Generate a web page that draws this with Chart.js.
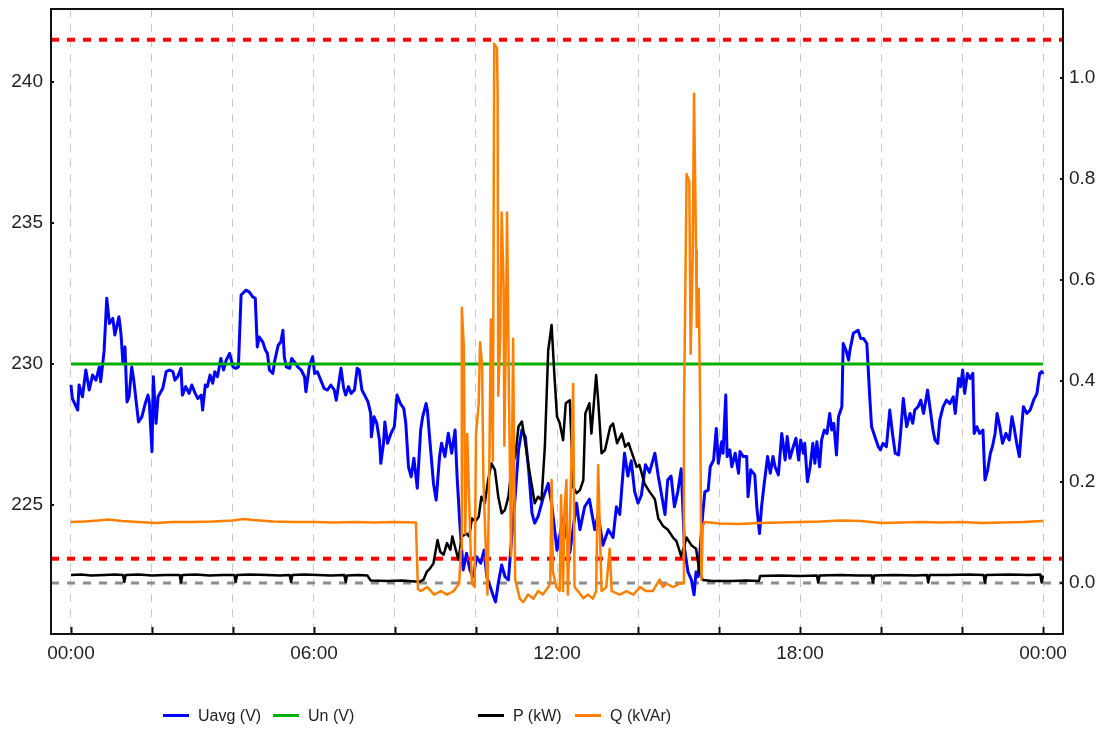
<!DOCTYPE html>
<html>
<head>
<meta charset="utf-8">
<title>Uavg / Un / P / Q</title>
<script src="https://cdn.jsdelivr.net/npm/chart.js@4.4.1/dist/chart.umd.min.js"></script>
<style>
  html, body { margin: 0; padding: 0; background: #ffffff; }
  #wrap { position: relative; width: 1104px; height: 734px; }
  canvas { display: block; }
  .lg { position: absolute; top: 707px; height: 22px; line-height: 22px;
        font: 16px "Liberation Sans", Arial, sans-serif; color: #222; white-space: nowrap; }
  .lg i { display: inline-block; width: 26px; height: 3px; vertical-align: middle;
          margin-right: 9px; position: relative; top: -1px; }
</style>
</head>
<body>
<div id="wrap">
  <canvas id="chart" width="1104" height="734"></canvas>
  <div class="lg" style="left:163px"><i style="background:#0000ff"></i>Uavg (V)</div>
  <div class="lg" style="left:273px"><i style="background:#00b000"></i>Un (V)</div>
  <div class="lg" style="left:478px"><i style="background:#000000"></i>P (kW)</div>
  <div class="lg" style="left:575px"><i style="background:#ff8000"></i>Q (kVAr)</div>
</div>
<script>
// Time axis is in minutes from midnight; limits and nominal voltage in volts.
const nominalVoltage = 230;
const upperLimit = 241.5;
const lowerLimit = 223.1;

const timeTicks = [0, 120, 240, 360, 480, 600, 720, 840, 960, 1080, 1200, 1320, 1440];
const voltTicks = [225, 230, 235, 240];
const powerTicks = [0, 0.2, 0.4, 0.6, 0.8, 1.0];

// Average phase voltage (V)
const uavgTime = [0,2,10,12,17,22,27,32,37,42,44,49,53,57,62,65,71,74,77,80,83,86,90,93,100,105,110,114,116,120,122,126,129,136,141,146,151,154,158,163,165,170,175,179,184,188,193,195,199,202,206,210,213,217,222,226,230,235,240,244,248,252,259,264,269,273,276,279,284,288,291,294,299,302,307,311,314,316,319,324,327,331,336,341,346,348,353,358,361,365,370,375,380,385,390,393,396,400,404,407,411,415,420,424,427,431,435,440,444,445,449,453,457,459,463,465,469,474,479,483,488,493,496,500,504,508,513,518,521,526,528,532,537,541,546,549,554,559,564,569,572,576,581,586,591,596,601,607,612,616,621,626,629,633,638,643,648,653,658,663,668,673,678,683,687,692,700,707,712,720,729,739,749,754,761,768,776,781,788,796,803,808,813,820,825,830,835,840,845,851,857,865,870,875,880,884,889,894,899,904,909,914,919,923,926,929,936,939,944,947,952,956,959,964,966,970,972,976,979,984,989,991,996,1001,1003,1007,1013,1016,1020,1023,1027,1032,1036,1040,1043,1048,1053,1058,1061,1065,1070,1074,1078,1081,1085,1087,1091,1095,1099,1102,1105,1109,1112,1116,1120,1124,1127,1130,1134,1137,1142,1144,1148,1152,1154,1159,1166,1170,1174,1179,1183,1186,1191,1196,1199,1203,1208,1213,1217,1221,1226,1229,1233,1238,1243,1247,1250,1255,1259,1263,1269,1273,1277,1280,1284,1287,1292,1297,1302,1307,1310,1315,1318,1321,1324,1328,1332,1336,1338,1342,1346,1351,1354,1358,1362,1365,1369,1372,1376,1380,1385,1390,1394,1397,1401,1405,1408,1411,1416,1421,1426,1431,1435,1438,1440];
const uavgValue = [229.26,228.78,228.37,229.26,228.84,229.79,229.08,229.61,229.43,229.9,229.37,230.44,232.33,231.44,231.62,231.03,231.68,231.09,230.02,230.61,228.66,228.84,229.9,229.43,227.95,228.13,228.6,228.9,228.66,226.89,229.55,227.9,228.84,229.14,229.73,229.79,229.73,229.43,229.55,229.85,228.9,229.2,228.96,229.26,228.96,228.78,228.9,228.37,229.26,229.2,229.61,229.32,229.73,229.55,230.2,229.79,230.14,230.38,229.9,229.85,229.9,232.45,232.62,232.56,232.39,232.33,230.61,230.96,230.79,230.5,230.38,229.79,229.67,230.14,230.67,230.79,231.2,230.26,229.9,229.85,230.2,230.08,229.9,229.79,229.55,229.02,229.9,230.26,229.67,229.73,229.43,229.14,229.08,229.26,229.08,228.72,229.2,229.85,229.14,228.9,229.2,228.96,229.08,229.85,229.79,229.08,228.9,228.66,228.25,227.42,228.13,227.9,227.3,226.48,227.19,227.95,227.19,227.54,227.78,228.9,228.6,228.43,227.9,226.36,226.0,226.66,225.6,227.66,228.13,228.6,228.37,227.19,225.77,225.18,226.72,227.19,226.72,227.55,226.84,227.66,226.01,224.36,222.7,223.29,222.7,222.46,223.17,222.94,223.4,222.46,222.11,221.75,221.57,222.23,222.88,222.46,222.35,223.88,225.3,226.96,227.66,227.43,226.25,224.71,224.36,224.6,225.3,225.77,225.06,223.4,224.53,223.31,225.07,224.13,224.94,225.21,224.13,224.67,223.58,224.13,223.85,224.94,224.67,226.84,226.03,226.57,225.48,225.07,225.35,226.43,226.16,226.84,226.03,225.35,224.67,225.89,226.03,224.94,225.48,226.29,223.45,222.63,222.36,221.82,222.63,222.46,224.71,225.47,225.53,226.36,226.6,227.72,226.48,227.25,226.84,228.9,226.72,226.96,226.36,226.84,226.13,226.9,226.72,226.72,225.3,226.25,226.07,224.94,223.99,224.94,225.77,226.72,226.13,226.72,226.36,226.07,227.54,226.6,227.43,226.66,227.07,227.37,226.6,227.31,226.84,227.19,225.83,226.36,227.19,226.48,227.25,226.36,227.31,227.66,227.54,228.25,227.66,227.9,226.78,228.13,228.49,230.73,230.5,230.14,230.5,231.09,231.2,230.91,230.91,230.73,228.96,227.78,227.42,227.07,226.96,227.19,227.07,228.37,227.54,226.84,226.78,227.54,228.78,227.78,228.25,227.9,228.37,228.49,228.72,228.25,229.08,228.37,227.66,227.31,227.19,228.01,228.49,228.72,228.6,228.84,228.25,229.49,229.2,229.79,228.96,229.67,229.49,229.67,227.54,227.78,227.54,227.66,225.89,226.25,226.84,227.07,227.54,228.25,227.78,227.19,227.54,227.31,228.13,227.78,227.19,226.72,227.66,228.49,228.25,228.37,228.72,228.96,229.67,229.73,229.65];

// Active power (kW)
const pTime = [0,15,30,50,65,77,79,81,100,120,140,161,163,165,185,205,225,242,244,246,265,290,310,324,326,328,345,365,385,405,407,409,425,439,444,470,490,510,517,522,527,532,537,543,547,552,557,562,565,570,574,579,586,590,594,599,604,608,613,618,623,628,633,638,643,648,653,658,663,668,673,678,683,687,692,697,702,707,712,716,720,724,729,733,739,744,749,754,759,762,768,771,778,781,786,791,799,803,809,816,821,826,833,838,842,850,857,865,870,877,884,892,897,904,912,919,926,931,936,950,980,1000,1019,1021,1050,1080,1105,1107,1109,1140,1165,1186,1188,1190,1220,1250,1268,1270,1272,1300,1330,1352,1354,1356,1390,1420,1436,1438,1440];
const pValue = [0.016,0.017,0.015,0.016,0.017,0.016,0.002,0.016,0.017,0.015,0.016,0.016,0.001,0.016,0.017,0.015,0.016,0.016,0.002,0.016,0.017,0.016,0.015,0.016,0.002,0.016,0.017,0.016,0.015,0.016,0.002,0.015,0.016,0.015,0.005,0.004,0.005,0.003,0.003,0.006,0.022,0.029,0.039,0.085,0.062,0.056,0.079,0.066,0.092,0.066,0.046,0.092,0.098,0.092,0.128,0.122,0.131,0.171,0.158,0.204,0.237,0.224,0.171,0.138,0.145,0.171,0.231,0.25,0.31,0.32,0.277,0.231,0.191,0.158,0.171,0.164,0.27,0.461,0.511,0.415,0.33,0.317,0.283,0.356,0.362,0.19,0.178,0.184,0.204,0.336,0.356,0.296,0.412,0.362,0.257,0.263,0.31,0.316,0.277,0.296,0.27,0.277,0.25,0.23,0.234,0.196,0.181,0.166,0.128,0.113,0.106,0.09,0.083,0.053,0.09,0.075,0.068,0.022,0.006,0.004,0.004,0.005,0.004,0.014,0.015,0.014,0.015,0.001,0.015,0.016,0.015,0.015,0.001,0.015,0.016,0.015,0.016,0.001,0.016,0.016,0.017,0.016,0.001,0.016,0.017,0.016,0.017,0.001,0.015];

// Reactive power (kVAr)
const qTime = [0,20,40,55,75,100,125,150,180,210,240,255,270,300,330,360,390,420,450,480,511,514,518,528,538,548,557,567,575,578,579,582,584,587,589,592,594,598,600,604,606,609,611,614,617,620,622,625,627,631,632,633,636,638,641,642,645,646,649,652,655,658,665,670,677,685,692,699,707,710,712,714,719,724,726,729,731,734,736,739,744,746,751,759,766,773,778,781,783,786,793,798,801,813,823,833,843,852,862,872,877,882,892,902,907,908,912,916,918,921,923,926,927,930,932,934,936,939,960,990,1020,1050,1080,1110,1140,1170,1200,1230,1260,1290,1320,1350,1380,1410,1440];
const qValue = [0.121,0.122,0.124,0.126,0.123,0.121,0.119,0.121,0.121,0.122,0.124,0.127,0.125,0.122,0.121,0.121,0.12,0.121,0.12,0.121,0.12,-0.012,-0.016,-0.008,-0.023,-0.016,-0.023,-0.016,-0.001,0.068,0.545,0.469,0.098,0.295,0.204,0.068,-0.001,-0.008,0.295,0.356,0.477,0.431,0.204,0.09,-0.023,0.257,0.522,0.242,1.068,1.06,0.977,0.371,0.492,0.734,0.583,0.272,0.583,0.734,0.356,0.053,0.484,0.007,-0.031,-0.038,-0.023,-0.031,-0.016,-0.023,-0.008,-0.001,0.204,0.022,-0.008,-0.016,0.174,-0.016,0.144,0.204,-0.023,0.113,0.394,-0.008,-0.016,-0.03,-0.023,-0.031,-0.016,0.234,0.128,-0.016,-0.008,0.068,-0.016,-0.023,-0.016,-0.023,-0.008,-0.016,-0.016,0.007,-0.008,-0.001,-0.008,-0.001,-0.001,0.325,0.81,0.795,0.454,0.644,0.969,0.659,0.507,0.583,0.356,0.007,0.113,0.121,0.118,0.117,0.119,0.12,0.121,0.122,0.124,0.123,0.119,0.12,0.121,0.12,0.121,0.119,0.12,0.121,0.123];

// Axis extents
const xMin = -29.6, xMax = 1469.6;
const voltMin = 220.43, voltMax = 242.59;
const powerMin = -0.101, powerMax = 1.137;

const toPoints = (t, v) => t.map((x, i) => ({ x: x, y: v[i] }));
const flat = (y, a, b) => [{ x: a, y: y }, { x: b, y: y }];
const hhmm = m => {
  const h = Math.floor((m % 1440) / 60), mm = m % 60;
  return String(h).padStart(2, '0') + ':' + String(mm).padStart(2, '0');
};
const setTicks = list => scale => { scale.ticks = list.map(v => ({ value: v })); };
// Fixed side width; plot top sits 9px below the canvas edge
const fitSide = w => scale => { scale.width = w; scale.paddingTop = 9; scale.paddingBottom = 0; };

const FONT = { family: '"Liberation Sans", Arial, sans-serif', size: 19 };

// Plot frame and short inward tick marks
const framePlugin = {
  id: 'frame',
  afterDraw(chart) {
    const { ctx, chartArea: a, scales } = chart;
    ctx.save();
    ctx.strokeStyle = '#111';
    ctx.lineWidth = 2;
    ctx.strokeRect(a.left, a.top, a.right - a.left, a.bottom - a.top);
    ctx.beginPath();
    timeTicks.forEach(v => {
      const x = Math.round(scales.x.getPixelForValue(v)) + 0.5;
      ctx.moveTo(x, a.bottom); ctx.lineTo(x, a.bottom - 7);
    });
    voltTicks.forEach(v => {
      const y = Math.round(scales.yL.getPixelForValue(v));
      ctx.moveTo(a.left, y); ctx.lineTo(a.left + 3, y);
    });
    powerTicks.forEach(v => {
      const y = Math.round(scales.yR.getPixelForValue(v));
      ctx.moveTo(a.right, y); ctx.lineTo(a.right - 3, y);
    });
    ctx.stroke();
    ctx.restore();
  }
};

const lineDefaults = { pointRadius: 0, pointHoverRadius: 0, tension: 0, fill: false,
                       borderJoinStyle: 'round', borderCapStyle: 'butt' };

new Chart(document.getElementById('chart'), {
  type: 'line',
  data: {
    datasets: [
      Object.assign({ label: 'Q (kVAr)', data: toPoints(qTime, qValue), yAxisID: 'yR',
        borderColor: '#ff8000', borderWidth: 2.5, order: 0 }, lineDefaults),
      Object.assign({ label: 'P (kW)', data: toPoints(pTime, pValue), yAxisID: 'yR',
        borderColor: '#000000', borderWidth: 2.5, order: 1 }, lineDefaults),
      Object.assign({ label: 'Umax', data: flat(upperLimit, xMin, xMax), yAxisID: 'yL',
        borderColor: '#ff0000', borderWidth: 4, borderDash: [8, 8], order: 2 }, lineDefaults),
      Object.assign({ label: 'Umin', data: flat(lowerLimit, xMin, xMax), yAxisID: 'yL',
        borderColor: '#ff0000', borderWidth: 4, borderDash: [8, 8], order: 2 }, lineDefaults),
      Object.assign({ label: 'Un (V)', data: flat(nominalVoltage, 0, 1440), yAxisID: 'yL',
        borderColor: '#00b000', borderWidth: 3, order: 3 }, lineDefaults),
      Object.assign({ label: 'Uavg (V)', data: toPoints(uavgTime, uavgValue), yAxisID: 'yL',
        borderColor: '#0000ff', borderWidth: 3, order: 4 }, lineDefaults),
      Object.assign({ label: 'zero', data: flat(0, xMin, xMax), yAxisID: 'yR',
        borderColor: '#8c8c8c', borderWidth: 3, borderDash: [8, 8], order: 5 }, lineDefaults)
    ]
  },
  options: {
    responsive: false,
    animation: false,
    devicePixelRatio: 1,
    layout: { padding: 0 },
    plugins: { legend: { display: false }, tooltip: { enabled: false } },
    scales: {
      x: {
        type: 'linear', min: xMin, max: xMax,
        afterBuildTicks: setTicks(timeTicks),
        afterFit: s => { s.height = 100; },
        grid: { color: '#c8c8c8', lineWidth: 1, drawTicks: false },
        border: { display: false, dash: [8, 7] },
        ticks: { autoSkip: false, maxRotation: 0, padding: 8, color: '#222', font: FONT,
                 callback: v => (v % 360 === 0 ? hhmm(v) : '') }
      },
      yL: {
        type: 'linear', position: 'left', min: voltMin, max: voltMax,
        afterBuildTicks: setTicks(voltTicks),
        afterFit: fitSide(51),
        grid: { display: false, drawTicks: false },
        border: { display: false },
        ticks: { padding: 8, color: '#222', font: FONT, callback: v => String(v) }
      },
      yR: {
        type: 'linear', position: 'right', min: powerMin, max: powerMax,
        afterBuildTicks: setTicks(powerTicks),
        afterFit: fitSide(41),
        grid: { display: false, drawTicks: false },
        border: { display: false },
        ticks: { padding: 6, color: '#222', font: FONT, callback: v => v.toFixed(1) }
      }
    }
  },
  plugins: [framePlugin]
});
</script>
</body>
</html>
